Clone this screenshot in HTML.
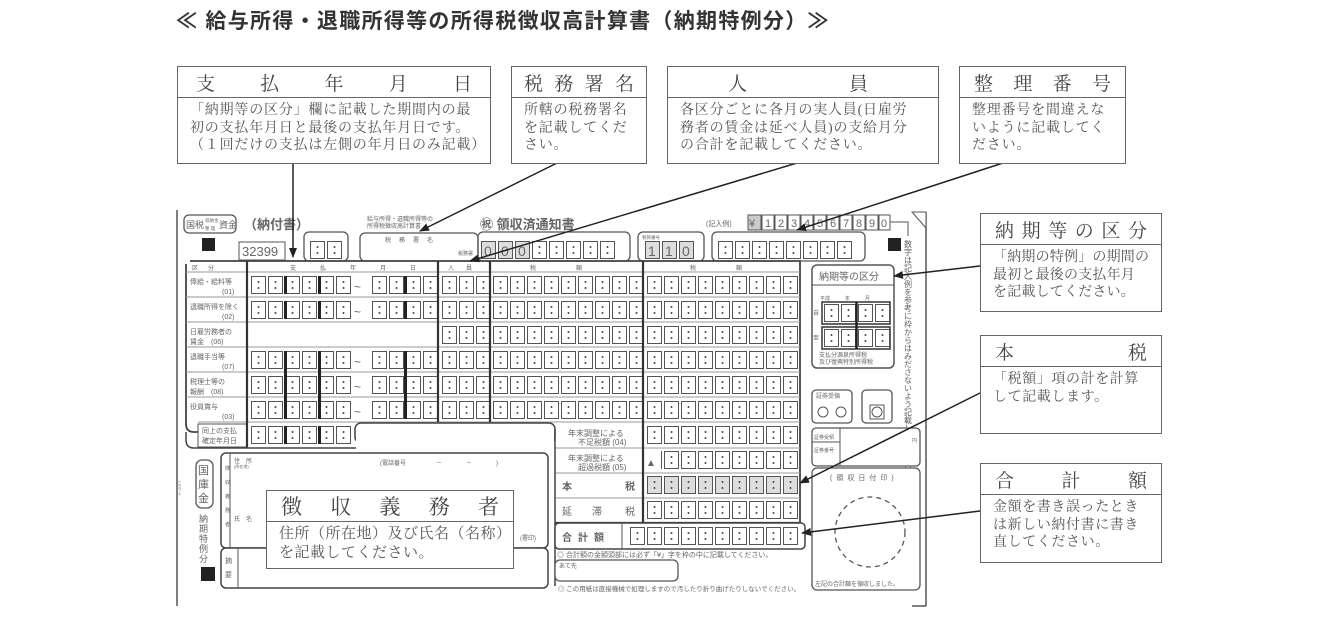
<!DOCTYPE html>
<html><head><meta charset="utf-8">
<style>
html,body{margin:0;padding:0;background:#fff;}
body{width:1320px;height:642px;position:relative;overflow:hidden;font-family:"Liberation Serif","Noto Serif CJK SC",serif;color:#444;}
.title{position:absolute;left:176px;top:5px;font-family:"Liberation Sans","Noto Sans CJK JP",sans-serif;font-size:21px;font-weight:bold;color:#333;white-space:nowrap;letter-spacing:1.3px;}
.co{position:absolute;border:1.5px solid #666;background:#fff;box-sizing:border-box;}
.co .h{height:30px;border-bottom:1.5px solid #666;display:flex;justify-content:space-between;align-items:center;font-size:19px;padding:0 14px;color:#444;}
.co .b{font-size:14px;line-height:17.5px;padding:4px 0 0 12px;white-space:nowrap;letter-spacing:0.8px;color:#555;}
svg{position:absolute;left:0;top:0;}
svg text{font-family:"Liberation Sans","Noto Sans CJK JP",sans-serif;fill:#666;}
</style></head><body>
<div class="title">≪ 給与所得・退職所得等の所得税徴収高計算書（納期特例分）≫</div>

<svg width="1320" height="642" viewBox="0 0 1320 642">
<defs>
<g id="c"><rect x="0.5" y="0.5" width="14" height="17" fill="#fff" stroke="#555"/><circle cx="7.5" cy="6" r="1" fill="#444"/><circle cx="7.5" cy="12" r="1" fill="#444"/></g>
<g id="cg"><rect x="0.5" y="0.5" width="14" height="17" fill="#ddd" stroke="#555"/></g>
<pattern id="pd" x="251" y="276" width="17" height="25" patternUnits="userSpaceOnUse"><use href="#c"/></pattern>
<pattern id="pe" x="372" y="276" width="17" height="25" patternUnits="userSpaceOnUse"><use href="#c"/></pattern>
<pattern id="pp" x="442" y="276" width="17" height="25" patternUnits="userSpaceOnUse"><use href="#c"/></pattern>
<pattern id="pt1" x="493" y="276" width="17" height="25" patternUnits="userSpaceOnUse"><use href="#c"/></pattern>
<pattern id="pt2" x="647" y="276" width="17" height="25" patternUnits="userSpaceOnUse"><use href="#c"/></pattern>
<pattern id="pg" x="647" y="276" width="17" height="25" patternUnits="userSpaceOnUse"><rect x="0.5" y="0.5" width="14" height="17" fill="#ddd" stroke="#555"/><circle cx="7.5" cy="6" r="1" fill="#444"/><circle cx="7.5" cy="12" r="1" fill="#444"/></pattern>
<pattern id="ptot" x="630" y="527" width="17" height="25" patternUnits="userSpaceOnUse"><use href="#c"/></pattern>
<pattern id="pz" x="718" y="241" width="17" height="25" patternUnits="userSpaceOnUse"><use href="#c"/></pattern>
<pattern id="pn" x="824" y="304" width="17" height="25" patternUnits="userSpaceOnUse"><use href="#c"/></pattern>
<marker id="ah" markerWidth="10" markerHeight="8" refX="9" refY="4" orient="auto" markerUnits="userSpaceOnUse"><path d="M0,0 L10,4 L0,8 z" fill="#222"/></marker>
</defs>

<line x1="177" y1="210" x2="177" y2="606" stroke="#555" stroke-width="1.5"/>
<line x1="926" y1="212" x2="926" y2="606" stroke="#555" stroke-width="1.5"/>
<line x1="912" y1="606" x2="926" y2="606" stroke="#555" stroke-width="1.5"/>
<path d="M912,212 L926,212 L926,228 z" fill="#fff" stroke="#555"/>

<rect x="184" y="215" width="52" height="18" rx="5" fill="#fff" stroke="#555" stroke-width="1.3"/>
<text x="186" y="228" font-size="9" fill="#333">国税</text><text x="205" y="222" font-size="4.5">収納金</text><text x="205" y="230" font-size="4.5">整 理</text><text x="219" y="228" font-size="9" fill="#333">資金</text>
<text x="244" y="229" font-size="13" font-weight="bold" fill="#444">（納付書）</text>
<rect x="202" y="238" width="13" height="13" fill="#222"/>
<rect x="239" y="242" width="46" height="18" fill="#fff" stroke="#555"/>
<text x="242" y="256" font-size="13" fill="#333">32399</text>
<rect x="304" y="232" width="44" height="29" rx="5" fill="#fff" stroke="#555" stroke-width="1.3"/>
<use href="#c" x="310" y="241"/><use href="#c" x="327" y="241"/>
<text x="367" y="221" font-size="6">給与所得・退職所得等の</text><text x="367" y="228" font-size="6">所得税徴収高計算書</text>
<text x="480" y="229" font-size="13" font-weight="bold" fill="#444">㊗ 領収済通知書</text>
<rect x="360" y="233" width="118" height="28" rx="5" fill="#fff" stroke="#555" stroke-width="1.3"/>
<text x="385" y="242" font-size="6" letter-spacing="8">税務署名</text>
<text x="458" y="255" font-size="5">税務署</text>
<rect x="478" y="232" width="152" height="29" rx="5" fill="none" stroke="#555" stroke-width="1.3"/>
<g><use href="#cg" x="481" y="241"/><use href="#cg" x="498" y="241"/><use href="#cg" x="515" y="241"/><use href="#c" x="532" y="241"/><use href="#c" x="549" y="241"/><use href="#c" x="566" y="241"/><use href="#c" x="583" y="241"/><use href="#c" x="600" y="241"/></g>
<g font-size="14" fill="#555"><text x="484" y="256">0</text><text x="501" y="256">0</text><text x="518" y="256">0</text></g>
<rect x="638" y="232" width="66" height="29" rx="5" fill="#fff" stroke="#555" stroke-width="1.3"/>
<use href="#cg" x="645" y="241"/><use href="#cg" x="662" y="241"/><use href="#cg" x="679" y="241"/>
<g font-size="14" fill="#555"><text x="648" y="256">1</text><text x="665" y="256">1</text><text x="682" y="256">0</text></g>
<text x="642" y="239" font-size="4.5">税目番号</text>
<rect x="712" y="232" width="153" height="29" rx="5" fill="#fff" stroke="#555" stroke-width="1.3"/>
<rect x="718" y="241" width="136" height="18" fill="url(#pz)"/>
<text x="706" y="226" font-size="7">(記入例)</text>
<g stroke="#555" fill="#fff">
<rect x="748" y="215" width="13" height="15" fill="#ccc"/><rect x="762" y="215" width="12" height="15"/><rect x="775" y="215" width="12" height="15"/><rect x="788" y="215" width="12" height="15"/><rect x="801" y="215" width="12" height="15"/><rect x="814" y="215" width="12" height="15"/><rect x="827" y="215" width="12" height="15"/><rect x="840" y="215" width="12" height="15"/><rect x="853" y="215" width="12" height="15"/><rect x="866" y="215" width="12" height="15"/><rect x="879" y="215" width="11" height="15"/>
</g>
<g font-size="11" fill="#444"><text x="749" y="227">¥</text><text x="765" y="227">1</text><text x="778" y="227">2</text><text x="791" y="227">3</text><text x="804" y="227">4</text><text x="817" y="227">5</text><text x="830" y="227">6</text><text x="843" y="227">7</text><text x="856" y="227">8</text><text x="869" y="227">9</text><text x="881" y="227">0</text></g>
<path d="M890,222 L908,222 L908,236" fill="none" stroke="#555"/>
<rect x="888" y="238" width="13" height="13" fill="#222"/>
<text font-size="8" writing-mode="tb" x="908" y="240">数字は記入例を参考に枠からはみださないよう記載してください</text>

<path d="M186,272 L186,424 Q186,432 194,432 L198,432" fill="none" stroke="#444" stroke-width="1.8"/>
<path d="M190,261 L800,261 L800,523" fill="none" stroke="#444" stroke-width="1.8"/>
<line x1="186" y1="264" x2="186" y2="272" stroke="#444" stroke-width="1.8"/>
<g stroke="#999" stroke-width="1">
<line x1="186" y1="272" x2="800" y2="272"/>
<line x1="186" y1="297" x2="800" y2="297"/><line x1="186" y1="322" x2="800" y2="322"/><line x1="186" y1="347" x2="800" y2="347"/><line x1="186" y1="372" x2="800" y2="372"/><line x1="186" y1="397" x2="800" y2="397"/><line x1="198" y1="422" x2="800" y2="422"/>
<line x1="555" y1="448" x2="800" y2="448"/><line x1="555" y1="473" x2="800" y2="473"/><line x1="555" y1="498" x2="800" y2="498"/>
</g>
<text x="192" y="270" font-size="6" letter-spacing="10">区分</text>
<text x="290" y="270" font-size="6" letter-spacing="24">支払年月日</text>
<text x="448" y="270" font-size="6" letter-spacing="12">人員</text>
<text x="530" y="270" font-size="6" letter-spacing="40">税額</text>
<text x="690" y="270" font-size="6" letter-spacing="40">税額</text>
<g font-size="7">
<text x="190" y="284">俸給・給料等</text><text x="222" y="294">(01)</text>
<text x="190" y="309">退職所得を除く</text><text x="222" y="319">(02)</text>
<text x="190" y="334">日雇労務者の</text><text x="190" y="344">賃金　(06)</text>
<text x="190" y="359">退職手当等</text><text x="222" y="369">(07)</text>
<text x="190" y="384">税理士等の</text><text x="190" y="394">報酬　(08)</text>
<text x="190" y="409">役員賞与</text><text x="222" y="419">(03)</text>
<text x="202" y="433">同上の支払</text><text x="202" y="443">確定年月日</text>
</g>
<rect x="198" y="424" width="49" height="23" fill="none" stroke="#555"/>
<rect x="251" y="276" width="100" height="18" fill="url(#pd)"/><rect x="251" y="301" width="100" height="18" fill="url(#pd)"/>
<rect x="251" y="351" width="100" height="68" fill="url(#pd)"/>
<rect x="251" y="426" width="100" height="18" fill="url(#pd)"/>
<rect x="372" y="276" width="66" height="43" fill="url(#pe)"/><rect x="372" y="351" width="66" height="68" fill="url(#pe)"/>
<g font-size="12"><text x="354" y="291">~</text><text x="354" y="316">~</text><text x="354" y="366">~</text><text x="354" y="391">~</text><text x="354" y="416">~</text></g>
<g fill="#222"><rect x="284" y="276" width="3" height="18"/><rect x="318" y="276" width="3" height="18"/><rect x="404" y="276" width="3" height="18"/>
<rect x="284" y="301" width="3" height="18"/><rect x="318" y="301" width="3" height="18"/><rect x="404" y="301" width="3" height="18"/>
<rect x="284" y="351" width="3" height="68"/><rect x="318" y="351" width="3" height="68"/><rect x="404" y="351" width="3" height="68"/>
<rect x="284" y="426" width="3" height="18"/><rect x="318" y="426" width="3" height="18"/></g>
<rect x="442" y="276" width="48" height="143" fill="url(#pp)"/>
<rect x="493" y="276" width="150" height="143" fill="url(#pt1)"/>
<rect x="647" y="276" width="153" height="143" fill="url(#pt2)"/>
<rect x="647" y="426" width="153" height="43" fill="url(#pt2)"/>
<rect x="647" y="476" width="153" height="18" fill="url(#pg)"/>
<rect x="647" y="501" width="153" height="18" fill="url(#pt2)"/>
<rect x="644" y="451" width="17" height="20" fill="#fff"/>
<text x="646" y="466" font-size="10" fill="#222">▲</text>
<g stroke="#333" stroke-width="2.2">
<line x1="247" y1="261" x2="247" y2="448"/>
<line x1="438" y1="261" x2="438" y2="422"/>
<line x1="490" y1="261" x2="490" y2="422"/>
<line x1="643" y1="261" x2="643" y2="523"/>
<line x1="555" y1="523" x2="800" y2="523"/>
</g>
<path d="M186,432 L186,440 Q186,448 194,448 L548,448" fill="none" stroke="#444" stroke-width="1.5"/>
<rect x="355" y="423" width="200" height="20" rx="6" fill="#fff" stroke="#444" stroke-width="1.5"/>
<rect x="356" y="430" width="198" height="20" fill="#fff"/>
<line x1="555" y1="430" x2="555" y2="586" stroke="#444" stroke-width="1.5"/>
<g font-size="8">
<text x="568" y="436">年末調整による</text><text x="578" y="445">不足税額 (04)</text>
<text x="568" y="461">年末調整による</text><text x="578" y="470">超過税額 (05)</text>
</g>
<text x="562" y="490" font-size="10" font-weight="bold" fill="#444">本</text><text x="625" y="490" font-size="10" font-weight="bold" fill="#444">税</text>
<text x="562" y="515" font-size="10" fill="#666">延</text><text x="592" y="515" font-size="10" fill="#666">滞</text><text x="625" y="515" font-size="10" fill="#666">税</text>
<rect x="555" y="523" width="250" height="26" rx="4" fill="#fff" stroke="#444" stroke-width="1.5"/>
<line x1="622" y1="523" x2="622" y2="549" stroke="#555"/>
<text x="562" y="541" font-size="10" font-weight="bold" fill="#444" letter-spacing="6">合計額</text>
<rect x="630" y="527" width="170" height="18" fill="url(#ptot)"/>
<text x="557" y="557" font-size="7" fill="#555">◎ 合計額の金額頭部には必ず「¥」字を枠の中に記載してください。</text>
<rect x="555" y="560" width="123" height="21" rx="5" fill="#fff" stroke="#555" stroke-width="1.3"/>
<text x="559" y="568" font-size="6">あて先</text>
<text x="558" y="591" font-size="6.5" fill="#888">◎ この用紙は直接機械で処理しますので汚したり折り曲げたりしないでください。</text>

<rect x="196" y="460" width="17" height="48" rx="6" fill="#fff" stroke="#555" stroke-width="1.3"/>
<text x="198" y="474" font-size="11" fill="#555">国</text><text x="198" y="488" font-size="11" fill="#555">庫</text><text x="198" y="502" font-size="11" fill="#555">金</text>
<text x="199" y="522" font-size="9">納</text><text x="199" y="532" font-size="9">期</text><text x="199" y="542" font-size="9">特</text><text x="199" y="552" font-size="9">例</text><text x="199" y="562" font-size="9">分</text>
<rect x="201" y="567" width="14" height="14" fill="#222"/>
<text x="180" y="480" font-size="4" writing-mode="tb">ドラフト</text>
<rect x="221" y="453" width="327" height="95" rx="5" fill="#fff" stroke="#444" stroke-width="1.5"/>
<line x1="230" y1="453" x2="230" y2="548" stroke="#555"/>
<text x="225" y="470" font-size="5">徴</text><text x="225" y="484" font-size="5">収</text><text x="225" y="498" font-size="5">義</text><text x="225" y="512" font-size="5">務</text><text x="225" y="526" font-size="5">者</text>
<text x="234" y="463" font-size="6">住　所</text><text x="234" y="468" font-size="4">(所在地)</text>
<text x="380" y="465" font-size="6">(電話番号　　　　　－　　　　－　　　　)</text>
<text x="234" y="521" font-size="6">氏　名</text><text x="520" y="540" font-size="6">(署印)</text>
<rect x="221" y="548" width="327" height="40" rx="5" fill="#fff" stroke="#444" stroke-width="1.5"/>
<line x1="238" y1="548" x2="238" y2="588" stroke="#555"/>
<text x="225" y="563" font-size="7">摘</text><text x="225" y="577" font-size="7">要</text>

<rect x="812" y="265" width="82" height="103" rx="5" fill="#fff" stroke="#555" stroke-width="1.5"/>
<line x1="812" y1="285" x2="894" y2="285" stroke="#555"/>
<text x="819" y="280" font-size="10" fill="#555">納期等の区分</text>
<text x="820" y="300" font-size="5">平成　　　年　　　月</text>
<text x="813" y="315" font-size="6">自</text><text x="813" y="340" font-size="6">至</text>
<rect x="822" y="302" width="68" height="22" fill="#fff" stroke="#333" stroke-width="1.5"/>
<rect x="822" y="327" width="68" height="22" fill="#fff" stroke="#333" stroke-width="1.5"/>
<rect x="824" y="304" width="66" height="43" fill="url(#pn)"/>
<line x1="856.5" y1="302" x2="856.5" y2="349" stroke="#222" stroke-width="2.5"/>
<text x="819" y="357" font-size="6">支払分源泉所得税</text><text x="819" y="364" font-size="6">及び復興特別所得税</text>
<rect x="812" y="390" width="40" height="33" rx="4" fill="#fff" stroke="#555" stroke-width="1.3"/>
<text x="816" y="398" font-size="6">証券受領</text>
<circle cx="823" cy="412" r="5" fill="none" stroke="#555"/><circle cx="841" cy="412" r="5" fill="none" stroke="#555"/>
<rect x="862" y="390" width="30" height="33" rx="4" fill="#fff" stroke="#555" stroke-width="1.3"/>
<rect x="870" y="405" width="14" height="14" fill="none" stroke="#555"/><circle cx="877" cy="412" r="5" fill="none" stroke="#555"/>
<rect x="812" y="428" width="108" height="38" rx="4" fill="#fff" stroke="#555" stroke-width="1.3"/>
<line x1="840" y1="428" x2="840" y2="466" stroke="#555"/><line x1="812" y1="442" x2="840" y2="442" stroke="#555"/>
<text x="814" y="439" font-size="5">証券受領</text><text x="814" y="452" font-size="5">証券番号</text><text x="912" y="442" font-size="5">円</text>
<rect x="812" y="468" width="108" height="122" rx="5" fill="#fff" stroke="#555" stroke-width="1.3"/>
<text x="830" y="480" font-size="7" letter-spacing="4">(領収日付印)</text>
<circle cx="870" cy="532" r="35" fill="none" stroke="#555" stroke-width="1.3" stroke-dasharray="5,4"/>
<text x="815" y="586" font-size="6">左記の合計額を領収しました。</text>

<g stroke="#222" stroke-width="1.5" fill="none" marker-end="url(#ah)">
<line x1="293" y1="163" x2="293" y2="257"/>
<line x1="557" y1="163" x2="420" y2="231"/>
<line x1="797" y1="163" x2="470" y2="261"/>
<line x1="1003" y1="163" x2="797" y2="230"/>
<line x1="980" y1="266" x2="894" y2="276"/>
<line x1="980" y1="393" x2="800" y2="483"/>
<line x1="980" y1="511" x2="802" y2="533"/>
</g>
</svg>

<div class="co" style="left:177px;top:66px;width:314px;height:98px;"><div class="h" style="padding:0 18px"><span>支</span><span>払</span><span>年</span><span>月</span><span>日</span></div><div class="b">「納期等の区分」欄に記載した期間内の最<br>初の支払年月日と最後の支払年月日です。<br>（１回だけの支払は左側の年月日のみ記載）</div></div>
<div class="co" style="left:511px;top:66px;width:136px;height:98px;"><div class="h" style="padding:0 12px"><span>税</span><span>務</span><span>署</span><span>名</span></div><div class="b">所轄の税務署名<br>を記載してくだ<br>さい。</div></div>
<div class="co" style="left:667px;top:66px;width:272px;height:98px;"><div class="h" style="padding:0 70px 0 60px"><span>人</span><span>員</span></div><div class="b">各区分ごとに各月の実人員(日雇労<br>務者の賃金は延べ人員)の支給月分<br>の合計を記載してください。</div></div>
<div class="co" style="left:959px;top:66px;width:167px;height:98px;"><div class="h" style="padding:0 14px"><span>整</span><span>理</span><span>番</span><span>号</span></div><div class="b">整理番号を間違えな<br>いように記載してく<br>ださい。</div></div>
<div class="co" style="left:980px;top:213px;width:182px;height:99px;"><div class="h" style="padding:0 14px"><span>納</span><span>期</span><span>等</span><span>の</span><span>区</span><span>分</span></div><div class="b" style="letter-spacing:0.2px">「納期の特例」の期間の<br>最初と最後の支払年月<br>を記載してください。</div></div>
<div class="co" style="left:980px;top:335px;width:182px;height:99px;"><div class="h" style="padding:0 14px"><span>本</span><span>税</span></div><div class="b" style="letter-spacing:0.6px">「税額」項の計を計算<br>して記載します。</div></div>
<div class="co" style="left:980px;top:463px;width:182px;height:100px;"><div class="h" style="padding:0 14px"><span>合</span><span>計</span><span>額</span></div><div class="b" style="letter-spacing:0.6px">金額を書き誤ったとき<br>は新しい納付書に書き<br>直してください。</div></div>
<div class="co" style="left:266px;top:490px;width:248px;height:79px;"><div class="h" style="height:30px;padding:0 14px;font-size:21px"><span>徴</span><span>収</span><span>義</span><span>務</span><span>者</span></div><div class="b" style="font-size:15px;line-height:19px;padding-top:3px;letter-spacing:0.5px">住所（所在地）及び氏名（名称）<br>を記載してください。</div></div>
</body></html>
